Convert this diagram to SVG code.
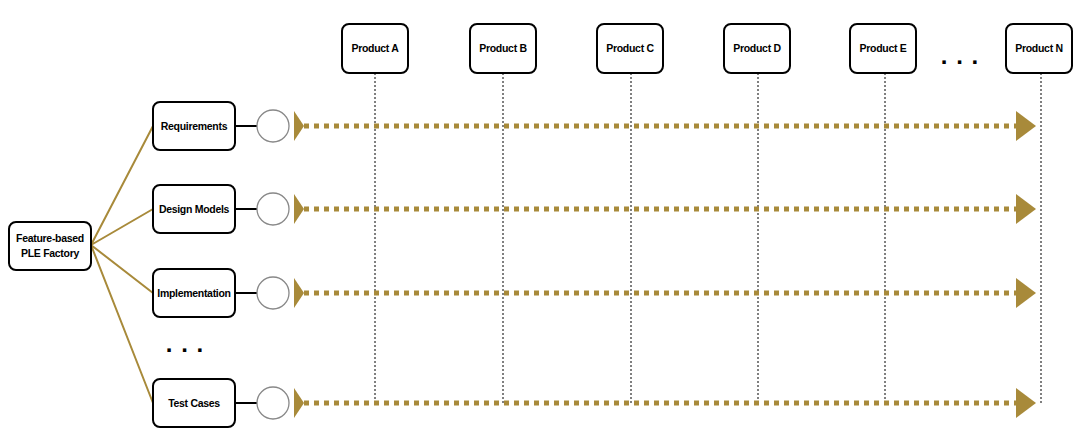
<svg xmlns="http://www.w3.org/2000/svg" width="1078" height="440" viewBox="0 0 1078 440">
<style>
.n rect{fill:#fff;stroke:#000;stroke-width:2}
text{font-family:"Liberation Sans",Arial,sans-serif;font-weight:bold;font-size:10.5px;letter-spacing:-0.3px;text-anchor:middle;fill:#000}
.g{stroke:#A88A3A;stroke-width:2;fill:none}
.d{stroke:#A88A3A;stroke-width:5;stroke-dasharray:5 5;fill:none}
.v{stroke:#000;stroke-width:1;stroke-dasharray:2 2}
.c{fill:#fff;stroke:#888;stroke-width:1.3}
.dots{font-size:24px;letter-spacing:1px}
</style>
<defs>
<marker id="ah" markerWidth="6" markerHeight="6" refX="1" refY="3" orient="auto" markerUnits="strokeWidth"><path d="M0,0 L4,3 L0,6z" fill="#A88A3A"/></marker>
<marker id="as" markerWidth="4" markerHeight="6" refX="0" refY="3" orient="auto" markerUnits="strokeWidth"><path d="M0,0 L2,3 L0,6z" fill="#A88A3A"/></marker>
</defs>
<g id="connectors">
<line class="v" x1="375" y1="73" x2="375" y2="405"/>
<line class="v" x1="503" y1="73" x2="503" y2="405"/>
<line class="v" x1="631" y1="73" x2="631" y2="405"/>
<line class="v" x1="758" y1="73" x2="758" y2="405"/>
<line class="v" x1="885" y1="73" x2="885" y2="405"/>
<line class="v" x1="1041" y1="73" x2="1041" y2="405"/>
<path class="g" d="M91,245 L153,126 M91,245 L153,209 M91,245 L153,293 M91,245 L153,403"/>
<path stroke="#000" stroke-width="2" d="M235,126H257M235,209H257M235,293H257M235,403H257"/>
<path class="d" d="M294,126H1021" marker-start="url(#as)" marker-end="url(#ah)"/>
<path class="d" d="M294,209H1021" marker-start="url(#as)" marker-end="url(#ah)"/>
<path class="d" d="M294,293H1021" marker-start="url(#as)" marker-end="url(#ah)"/>
<path class="d" d="M294,403H1021" marker-start="url(#as)" marker-end="url(#ah)"/>
</g>
<g id="factory" class="n"><rect x="9" y="222" width="82" height="48" rx="7"/><text x="50" y="242">Feature-based</text><text x="50" y="257">PLE Factory</text></g>
<g id="req" class="n"><rect x="153" y="102" width="82" height="48" rx="7"/><text x="194" y="130">Requirements</text></g>
<g id="design" class="n"><rect x="153" y="185" width="82" height="48" rx="7"/><text x="194" y="213">Design Models</text></g>
<g id="impl" class="n"><rect x="153" y="269" width="82" height="48" rx="7"/><text x="194" y="297">Implementation</text></g>
<g id="test" class="n"><rect x="153" y="379" width="82" height="48" rx="7"/><text x="194" y="407">Test Cases</text></g>
<g id="circles"><circle class="c" cx="273" cy="126" r="16"/><circle class="c" cx="273" cy="209" r="16"/><circle class="c" cx="273" cy="293" r="16"/><circle class="c" cx="273" cy="403" r="16"/></g>
<g id="pA" class="n"><rect x="342" y="24" width="66" height="49" rx="7"/><text x="375" y="52">Product A</text></g>
<g id="pB" class="n"><rect x="470" y="24" width="66" height="49" rx="7"/><text x="503" y="52">Product B</text></g>
<g id="pC" class="n"><rect x="597" y="24" width="66" height="49" rx="7"/><text x="630" y="52">Product C</text></g>
<g id="pD" class="n"><rect x="724" y="24" width="66" height="49" rx="7"/><text x="757" y="52">Product D</text></g>
<g id="pE" class="n"><rect x="850" y="24" width="66" height="49" rx="7"/><text x="883" y="52">Product E</text></g>
<g id="pN" class="n"><rect x="1006" y="24" width="66" height="49" rx="7"/><text x="1039" y="52">Product N</text></g>
<text class="dots" x="960" y="64">. . .</text>
<text class="dots" x="185" y="352">. . .</text>
</svg>
